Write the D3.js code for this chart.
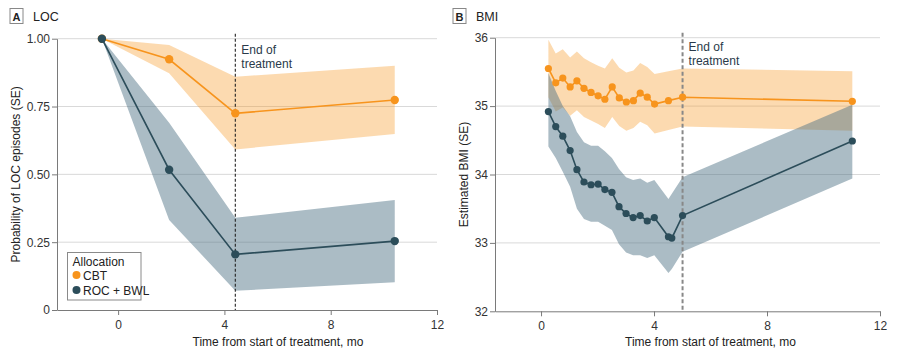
<!DOCTYPE html>
<html>
<head>
<meta charset="utf-8">
<script src="https://cdn.jsdelivr.net/npm/d3@7"></script>
<style>
body { margin: 0; background: #fff; }
svg { font-family: "Liberation Sans", Arial, sans-serif; }
.axis path, .axis line { stroke: #7a7a7a; }
.axis text { fill: #333; font-size: 12px; font-family: "Liberation Sans", Arial, sans-serif; }
</style>
</head>
<body>
<div id="chart-area"></div>
<script>
// Panel A - LOC probability
const locTime = [-0.61, 1.92, 4.41, 10.41]
const locCbt = [1.00, 0.924, 0.725, 0.774]
const locCbtLo = [1.00, 0.873, 0.592, 0.649]
const locCbtHi = [1.00, 0.977, 0.860, 0.900]
const locRoc = [1.00, 0.517, 0.205, 0.254]
const locRocLo = [1.00, 0.332, 0.071, 0.102]
const locRocHi = [1.00, 0.690, 0.340, 0.405]
const locEnd = 4.41

// Panel B - BMI
const bmiTimeCbt = [0.26, 0.52, 0.77, 1.03, 1.27, 1.52, 1.77, 2.02, 2.26, 2.52, 2.77, 3.02, 3.27, 3.51, 3.76, 4.02, 4.51, 5.01, 11.02]
const bmiCbt = [35.55, 35.34, 35.41, 35.28, 35.37, 35.26, 35.20, 35.15, 35.10, 35.28, 35.12, 35.06, 35.08, 35.19, 35.13, 35.03, 35.08, 35.13, 35.07]
const bmiCbtHi = [35.97, 35.77, 35.83, 35.71, 35.80, 35.70, 35.64, 35.59, 35.55, 35.70, 35.56, 35.49, 35.52, 35.63, 35.57, 35.47, 35.51, 35.55, 35.51]
const bmiCbtLo = [35.13, 34.92, 34.98, 34.86, 34.94, 34.84, 34.79, 34.74, 34.68, 34.84, 34.71, 34.64, 34.68, 34.77, 34.72, 34.60, 34.65, 34.70, 34.64]
const bmiTimeRoc = [0.26, 0.52, 0.77, 1.03, 1.27, 1.52, 1.77, 2.02, 2.26, 2.51, 2.76, 3.01, 3.26, 3.51, 3.76, 4.01, 4.51, 4.63, 5.01, 11.02]
const bmiRoc = [34.92, 34.70, 34.56, 34.35, 34.07, 33.89, 33.85, 33.86, 33.78, 33.74, 33.53, 33.43, 33.37, 33.40, 33.32, 33.37, 33.09, 33.07, 33.40, 34.49]
const bmiRocHi = [35.48, 35.22, 35.00, 34.85, 34.62, 34.47, 34.42, 34.42, 34.34, 34.24, 34.08, 33.96, 33.92, 33.94, 33.88, 33.92, 33.64, 33.72, 33.96, 35.02]
const bmiRocLo = [34.41, 34.24, 34.04, 33.82, 33.50, 33.35, 33.31, 33.31, 33.25, 33.19, 32.98, 32.86, 32.82, 32.82, 32.78, 32.82, 32.56, 32.62, 32.87, 33.94]
const bmiEnd = 5.01

const xTicks = [0, 4, 8, 12]
const locTicks = [0, 0.25, 0.5, 0.75, 1]
const bmiTicks = [32, 33, 34, 35, 36]
const groups = ["CBT", "ROC + BWL"]

const orange = "#f7941d", teal = "#2c4d5a"

const svg = d3.select("#chart-area").append("svg")
    .attr("width", 914)
    .attr("height", 363)

function rows(t, m, lo, hi) {
    return t.map(function(d, i) { return { t: d, m: m[i], lo: lo[i], hi: hi[i] } })
}

function panel(cfg) {
    const g = svg.append("g")
    const x = d3.scaleLinear().domain(cfg.xDomain).range(cfg.xRange)
    const y = d3.scaleLinear().domain(cfg.yDomain).range(cfg.yRange)

    // horizontal gridlines
    g.selectAll(".grid").data(cfg.yTicks.slice(1)).enter()
        .append("line")
        .attr("x1", cfg.xRange[0]).attr("x2", cfg.xRange[1])
        .attr("y1", d => y(d)).attr("y2", d => y(d))
        .attr("stroke", "#d9d9d9")

    // SE bands, gray one on top so the overlap darkens
    const area = d3.area().x(d => x(d.t)).y0(d => y(d.lo)).y1(d => y(d.hi))
    g.append("path").datum(cfg.cbt).attr("d", area)
        .attr("fill", orange).attr("fill-opacity", 0.35)
    g.append("path").datum(cfg.roc).attr("d", area)
        .attr("fill", "#4d7184").attr("fill-opacity", 0.47)

    // axes
    g.append("g").attr("class", "axis")
        .attr("transform", "translate(" + cfg.xRange[0] + ",0)")
        .call(d3.axisLeft(y).tickValues(cfg.yTicks).tickFormat(cfg.yFormat)
            .tickSize(5).tickSizeOuter(0).tickPadding(2))
    g.append("g").attr("class", "axis")
        .attr("transform", "translate(0," + cfg.yRange[0] + ")")
        .call(d3.axisBottom(x).tickValues(xTicks).tickSize(5).tickSizeOuter(0).tickPadding(5))

    // end of treatment marker
    g.append("line")
        .attr("x1", x(cfg.end)).attr("x2", x(cfg.end))
        .attr("y1", cfg.yRange[1] - 5).attr("y2", cfg.yRange[0])
        .attr("stroke", cfg.dashColor).attr("stroke-width", cfg.dashWidth)
        .attr("stroke-dasharray", cfg.dash)
    const note = g.append("text")
        .attr("x", x(cfg.end) + 6).attr("y", cfg.noteY)
        .attr("font-size", "12px").attr("fill", "#2a3a4a")
    note.append("tspan").attr("x", x(cfg.end) + 6).text("End of")
    note.append("tspan").attr("x", x(cfg.end) + 6).attr("dy", 13.5).text("treatment")

    // lines and dots
    const line = d3.line().x(d => x(d.t)).y(d => y(d.m))
    ;[[cfg.cbt, orange], [cfg.roc, teal]].forEach(function(s) {
        g.append("path").datum(s[0]).attr("d", line)
            .attr("fill", "none").attr("stroke", s[1]).attr("stroke-width", 1.6)
        g.selectAll(null).data(s[0]).enter().append("circle")
            .attr("cx", d => x(d.t)).attr("cy", d => y(d.m))
            .attr("r", cfg.r).attr("fill", s[1])
    })

    // axis titles
    g.append("text")
        .attr("x", (cfg.xRange[0] + cfg.xRange[1]) / 2 + cfg.xTitleShift)
        .attr("y", 346)
        .attr("text-anchor", "middle").attr("font-size", "12px").attr("fill", "#222")
        .text("Time from start of treatment, mo")
    g.append("text")
        .attr("transform", "translate(" + cfg.yTitleX + "," + ((cfg.yRange[0] + cfg.yRange[1]) / 2) + ") rotate(-90)")
        .attr("text-anchor", "middle").attr("font-size", "12px").attr("fill", "#222")
        .text(cfg.yTitle)

    // panel label
    g.append("rect")
        .attr("x", cfg.labelX).attr("y", 8.5).attr("width", 13).attr("height", 15)
        .attr("fill", "none").attr("stroke", "#888")
    g.append("text")
        .attr("x", cfg.labelX + 6.5).attr("y", 20.5).attr("text-anchor", "middle")
        .attr("font-size", "11px").attr("font-weight", "bold").attr("fill", "#222")
        .text(cfg.letter)
    g.append("text")
        .attr("x", cfg.labelX + 23).attr("y", 21)
        .attr("font-size", "12.5px").attr("fill", "#222")
        .text(cfg.title)

    return g
}

const gA = panel({
    letter: "A", title: "LOC", labelX: 10,
    xDomain: [-2.3, 12], xRange: [57, 437],
    yDomain: [0, 1], yRange: [310, 38.7],
    yTicks: locTicks, yFormat: d => d === 0 ? "0" : d3.format(".2f")(d),
    cbt: rows(locTime, locCbt, locCbtLo, locCbtHi),
    roc: rows(locTime, locRoc, locRocLo, locRocHi),
    end: locEnd, dashColor: "#222", dashWidth: 1.1, dash: "3,2", noteY: 54,
    r: 4.2, xTitleShift: 31, yTitleX: 20,
    yTitle: "Probability of LOC episodes (SE)"
})

panel({
    letter: "B", title: "BMI", labelX: 453,
    xDomain: [-1.63, 12], xRange: [495, 880],
    yDomain: [32, 36], yRange: [311.3, 37.7],
    yTicks: bmiTicks, yFormat: d3.format("d"),
    cbt: rows(bmiTimeCbt, bmiCbt, bmiCbtLo, bmiCbtHi),
    roc: rows(bmiTimeRoc, bmiRoc, bmiRocLo, bmiRocHi),
    end: bmiEnd, dashColor: "#888", dashWidth: 2, dash: "4,2.5", noteY: 51,
    r: 3.6, xTitleShift: 23, yTitleX: 468,
    yTitle: "Estimated BMI (SE)"
})

// legend
const leg = gA.append("g").attr("transform", "translate(67.5,252.5)")
leg.append("rect").attr("width", 73.5).attr("height", 47.5)
    .attr("fill", "#fff").attr("stroke", "#8a8a8a")
leg.append("text").attr("x", 5).attr("y", 13).attr("font-size", "12px").attr("fill", "#222")
    .text("Allocation")
leg.selectAll(".item").data(groups).enter().append("g")
    .attr("transform", (d, i) => "translate(9," + (22.5 + i * 15) + ")")
    .each(function(d, i) {
        d3.select(this).append("circle").attr("r", 4).attr("fill", i === 0 ? orange : teal)
        d3.select(this).append("text").attr("x", 6.5).attr("y", 4.5)
            .attr("font-size", "12px").attr("fill", "#222").text(d)
    })
</script>
</body>
</html>
